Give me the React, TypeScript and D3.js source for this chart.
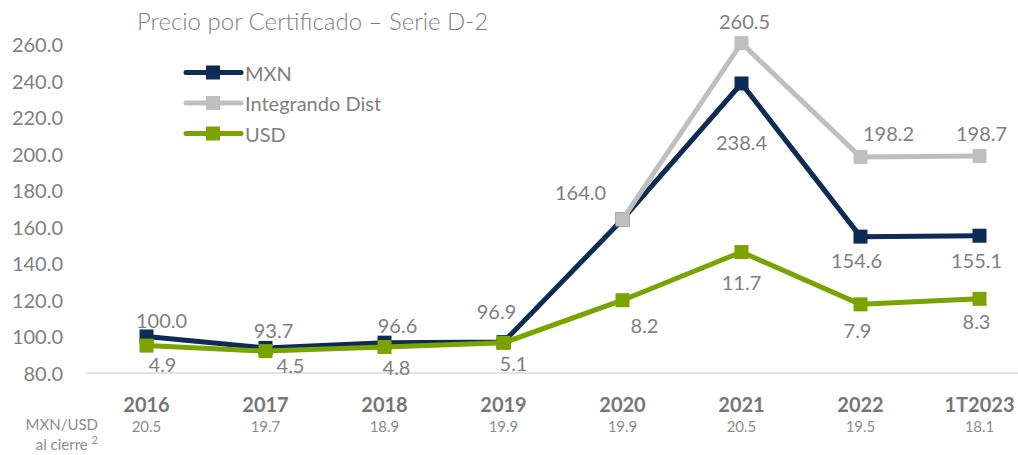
import React from "react";
import { scaleBand, scaleLinear, line, select } from "d3";

const periods = ["2016", "2017", "2018", "2019", "2020", "2021", "2022", "1T2023"];
const mxn = [100.0, 93.7, 96.6, 96.9, 164.0, 238.4, 154.6, 155.1];
const integrando: (number | null)[] = [null, null, null, null, 164.0, 260.5, 198.2, 198.7];
const usd = [4.9, 4.5, 4.8, 5.1, 8.2, 11.7, 7.9, 8.3];
const fxCierre = [20.5, 19.7, 18.9, 19.9, 19.9, 20.5, 19.5, 18.1];
const yTicks = [80, 100, 120, 140, 160, 180, 200, 220, 240, 260];

// label nudges (dx, dy) relative to the marker, mimicking excel's manual placement
const mxnNudge: ([number, number] | null)[] = [
  [15, -16], [8, -18], [13, -18], [-7, -31], null, [0, 59], [-4, 23], [-3, 24],
];
const intNudge: ([number, number] | null)[] = [
  null, null, null, null, [-42, -27], [3, -22], [28, -24], [2, -23],
];
const usdNudge: [number, number][] = [
  [16, 18], [25, 14], [12, 20], [10, 20], [22, 25], [0, 30], [-3, 26], [-3, 22],
];

const W = 1018;
const H = 455;
const FONT = "Lato, 'Open Sans', sans-serif";
const NAVY = "#0c2b55";
const GRAY = "#bfbfbf";
const GREEN = "#7aa300";
const TXT = "#7f7f7f";

export default function App() {
  const svgRef = React.useRef<SVGSVGElement>(null);

  React.useEffect(() => {
    const svg = select(svgRef.current);
    svg.selectAll("*").remove();

    const x = scaleBand<string>().domain(periods).range([87, 1039]).padding(0);
    const cx = (i: number) => x(periods[i])! + x.bandwidth() / 2;
    const y = scaleLinear().domain([80, 260]).range([373, 44]);
    // hidden secondary axis for the USD series
    const y2 = scaleLinear().domain([2.91, 26.82]).range([373, 44]);

    svg
      .append("text")
      .attr("x", 137)
      .attr("y", 20)
      .attr("dominant-baseline", "central")
      .attr("font-size", 24)
      .attr("font-weight", 300)
      .attr("fill", TXT)
      .text("Precio por Certificado – Serie D-2");

    // y axis labels
    svg
      .append("g")
      .selectAll("text")
      .data(yTicks)
      .join("text")
      .attr("x", 63)
      .attr("y", (d) => y(d))
      .attr("text-anchor", "end")
      .attr("dominant-baseline", "central")
      .attr("font-size", 20)
      .attr("fill", TXT)
      .text((d) => d.toFixed(1));

    svg
      .append("line")
      .attr("x1", 87)
      .attr("x2", 1039)
      .attr("y1", y(80))
      .attr("y2", y(80))
      .attr("stroke", "#d9d9d9")
      .attr("stroke-width", 1.5);

    // x axis labels
    const xl = svg.append("g");
    xl.selectAll("text.yr")
      .data(periods)
      .join("text")
      .attr("class", "yr")
      .attr("x", (_, i) => cx(i))
      .attr("y", 404)
      .attr("text-anchor", "middle")
      .attr("dominant-baseline", "central")
      .attr("font-size", 20)
      .attr("font-weight", "bold")
      .attr("fill", "#767676")
      .text((d) => d);
    xl.selectAll("text.fx")
      .data(fxCierre)
      .join("text")
      .attr("class", "fx")
      .attr("x", (_, i) => cx(i))
      .attr("y", 426)
      .attr("text-anchor", "middle")
      .attr("dominant-baseline", "central")
      .attr("font-size", 15)
      .attr("fill", "#8c8c8c")
      .text((d) => d.toFixed(1));
    xl.append("text")
      .attr("x", 98)
      .attr("y", 424)
      .attr("text-anchor", "end")
      .attr("dominant-baseline", "central")
      .attr("font-size", 15)
      .attr("fill", "#8c8c8c")
      .text("MXN/USD");
    const ac = xl
      .append("text")
      .attr("x", 98)
      .attr("y", 444)
      .attr("text-anchor", "end")
      .attr("dominant-baseline", "central")
      .attr("font-size", 15)
      .attr("fill", "#8c8c8c");
    ac.append("tspan").text("al cierre ");
    ac.append("tspan").attr("font-size", 11).attr("dy", -5).text("2");

    const drawSeries = (
      vals: (number | null)[],
      scale: (v: number) => number,
      color: string
    ) => {
      const pts = vals
        .map((v, i) => (v == null ? null : { i, v }))
        .filter((p): p is { i: number; v: number } => p !== null);
      const path = line<{ i: number; v: number }>()
        .x((d) => cx(d.i))
        .y((d) => scale(d.v));
      svg
        .append("path")
        .attr("d", path(pts))
        .attr("fill", "none")
        .attr("stroke", color)
        .attr("stroke-width", 5)
        .attr("stroke-linejoin", "round");
      svg
        .append("g")
        .selectAll("rect")
        .data(pts)
        .join("rect")
        .attr("x", (d) => cx(d.i) - 7)
        .attr("y", (d) => scale(d.v) - 7)
        .attr("width", 14)
        .attr("height", 14)
        .attr("fill", color);
      return pts;
    };

    const labels = (
      vals: (number | null)[],
      scale: (v: number) => number,
      nudge: ([number, number] | null)[]
    ) => {
      const items = vals
        .map((v, i) => ({ v, i, n: nudge[i] }))
        .filter((d) => d.v != null && d.n != null);
      svg
        .append("g")
        .selectAll("text")
        .data(items)
        .join("text")
        .attr("x", (d) => cx(d.i) + d.n![0])
        .attr("y", (d) => scale(d.v!) + d.n![1])
        .attr("text-anchor", "middle")
        .attr("dominant-baseline", "central")
        .attr("font-size", 20)
        .attr("fill", TXT)
        .text((d) => d.v!.toFixed(1));
    };

    drawSeries(mxn, y, NAVY);
    drawSeries(integrando, y, GRAY);
    drawSeries(usd, y2, GREEN);

    labels(mxn, y, mxnNudge);
    labels(integrando, y, intNudge);
    labels(usd, y2, usdNudge);

    // legend
    const legend = [
      { name: "MXN", color: NAVY },
      { name: "Integrando Dist", color: GRAY },
      { name: "USD", color: GREEN },
    ];
    const lg = svg
      .append("g")
      .selectAll("g")
      .data(legend)
      .join("g")
      .attr("transform", (_, i) => `translate(0,${72.5 + i * 30.5})`);
    lg.append("line")
      .attr("x1", 186)
      .attr("x2", 241)
      .attr("stroke", (d) => d.color)
      .attr("stroke-width", 5)
      .attr("stroke-linecap", "round");
    lg.append("rect")
      .attr("x", 206)
      .attr("y", -7)
      .attr("width", 14)
      .attr("height", 14)
      .attr("fill", (d) => d.color);
    lg.append("text")
      .attr("x", 245)
      .attr("dominant-baseline", "central")
      .attr("font-size", 20)
      .attr("fill", TXT)
      .text((d) => d.name);
  }, []);

  return (
    <svg
      ref={svgRef}
      width={W}
      height={H}
      style={{ position: "absolute", left: 0, top: 0, fontFamily: FONT, background: "#fff" }}
    />
  );
}
